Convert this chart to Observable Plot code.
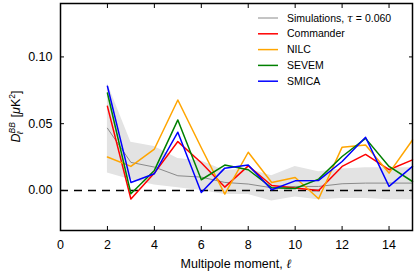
<!DOCTYPE html>
<html><head><meta charset="utf-8">
<script src="https://cdn.jsdelivr.net/npm/d3@7"></script>
<script src="https://cdn.jsdelivr.net/npm/@observablehq/plot@0.6"></script>
<style>body{margin:0;background:#fff}</style>
</head><body><div id="chart"></div>
<script>
const ells = [2, 3, 4, 5, 6, 7, 8, 9, 10, 11, 12, 13, 14, 15];
const simMean = [0.0466, 0.021, 0.0175, 0.011, 0.010, 0.006, 0.0048, 0.002, 0.003, 0.003, 0.005, 0.0055, 0.0055, 0.0055];
const simHi = [0.080, 0.036, 0.033, 0.024, 0.022, 0.015, 0.016, 0.011, 0.018, 0.014, 0.016, 0.017, 0.017, 0.017];
const simLo = [0.013, 0.008, 0.004, 0.002, 0.000, -0.003, -0.003, -0.008, -0.005, -0.007, -0.006, -0.006, -0.007, -0.007];
const commander = [0.063, -0.0064, 0.013, 0.0366, 0.0207, 0.0025, 0.0184, 0.0037, 0.0018, 0.0, 0.018, 0.027, 0.0155, 0.0229];
const nilc = [0.025, 0.018, 0.031, 0.0677, 0.032, -0.0027, 0.0286, 0.006, 0.0097, -0.0062, 0.0324, 0.034, 0.013, 0.0378];
const sevem = [0.073, -0.0025, 0.015, 0.0528, 0.008, 0.019, 0.0155, 0.002, 0.0015, 0.0085, 0.0254, 0.039, 0.018, 0.0067];
const smica = [0.078, 0.006, 0.0125, 0.0436, -0.0015, 0.0167, 0.019, 0.0005, 0.0072, 0.0075, 0.0217, 0.0398, 0.003, 0.018];
const seriesNames = ["Commander", "NILC", "SEVEM", "SMICA"];
const seriesColors = ["#ff0000", "#ffa500", "#008000", "#0000ff"];
const xTicks = [0, 2, 4, 6, 8, 10, 12, 14];
const yTicks = [0, 0.05, 0.10];
const simLabel = "Simulations, ";

const seriesValues = [commander, nilc, sevem, smica];
const rows = [];
seriesValues.forEach((vals, k) => vals.forEach((v, i) => rows.push({ell: ells[i], v, name: seriesNames[k]})));
const sim = ells.map((e, i) => ({ell: e, v: simMean[i], lo: simLo[i], hi: simHi[i]}));

const font = "Liberation Sans";
const plot = Plot.plot({
  width: 415, height: 275,
  marginLeft: 60, marginRight: 3, marginTop: 3, marginBottom: 45,
  style: {fontFamily: font, fontSize: "12.5px", background: "white", color: "black"},
  x: {domain: [0, 15]},
  y: {domain: [-0.03, 0.14]},
  color: {domain: seriesNames, range: seriesColors},
  marks: [
    Plot.areaY(sim, {x: "ell", y1: "lo", y2: "hi", fill: "#e3e3e3"}),
    Plot.ruleY([0], {stroke: "black", strokeWidth: 1.6, strokeDasharray: "8,6"}),
    Plot.lineY(sim, {x: "ell", y: "v", stroke: "#8a8a8a", strokeWidth: 1}),
    Plot.lineY(rows, {x: "ell", y: "v", z: "name", stroke: "name", strokeWidth: 1.5}),
    Plot.axisX(xTicks, {anchor: "bottom", tickSize: 0, tickPadding: 10, label: null}),
    Plot.axisX(xTicks.slice(1), {anchor: "bottom", tickSize: -4, tickFormat: () => "", label: null}),
    Plot.axisX(xTicks.slice(1), {anchor: "top", tickSize: -4, tickFormat: () => "", label: null}),
    Plot.axisY(yTicks, {anchor: "left", tickSize: 0, tickPadding: 8, tickFormat: d3.format(".2f"), label: null}),
    Plot.axisY(yTicks, {anchor: "left", tickSize: -4, tickFormat: () => "", label: null}),
    Plot.axisY(yTicks, {anchor: "right", tickSize: -4, tickFormat: () => "", label: null}),
    Plot.frame({stroke: "black", strokeWidth: 1.5})
  ]
});
document.getElementById("chart").appendChild(plot);

const svg = d3.select(plot);
// x label
const xl = svg.append("text").attr("x", 236).attr("y", 268).attr("text-anchor", "middle")
  .attr("font-family", font).attr("font-size", 12.5).attr("fill", "black");
xl.append("tspan").text("Multipole moment, ");
xl.append("tspan").attr("font-style", "italic").attr("font-family", "DejaVu Serif").text("ℓ");
// y label
const yl = svg.append("text").attr("transform", "translate(20,116.5) rotate(-90)").attr("text-anchor", "middle")
  .attr("font-family", font).attr("font-size", 12.5).attr("fill", "black");
yl.append("tspan").attr("font-style", "italic").text("D");
yl.append("tspan").attr("font-style", "italic").attr("font-size", 8.5).attr("dy", -5).text("BB");
yl.append("tspan").attr("font-style", "italic").attr("font-size", 8.5).attr("dx", -12).attr("dy", 8).text("ℓ");
yl.append("tspan").attr("dx", 14).attr("dy", -3).text("[");
yl.append("tspan").attr("font-style", "italic").text("μ");
yl.append("tspan").text("K");
yl.append("tspan").attr("font-size", 8.5).attr("dy", -5).text("2");
yl.append("tspan").attr("dy", 5).text("]");

// legend
const leg = svg.append("g").attr("font-family", font).attr("font-size", 10.5).attr("text-anchor", "start");
const legItems = [{name: simLabel, color: "#8a8a8a", w: 1}].concat(seriesNames.map((n, i) => ({name: n, color: seriesColors[i], w: 1.5})));
legItems.forEach((it, i) => {
  const y = 18 + i * 15.8;
  leg.append("line").attr("x1", 258).attr("x2", 278).attr("y1", y).attr("y2", y)
    .attr("stroke", it.color).attr("stroke-width", it.w);
  const t = leg.append("text").attr("x", 287).attr("y", y).attr("dy", "0.35em").attr("fill", "black").attr("text-anchor", "start");
  t.append("tspan").text(it.name);
  if (i === 0) {
    t.append("tspan").attr("font-style", "italic").attr("font-family", "DejaVu Serif").text("τ");
    t.append("tspan").text(" = 0.060");
  }
});
</script>
</body></html>
